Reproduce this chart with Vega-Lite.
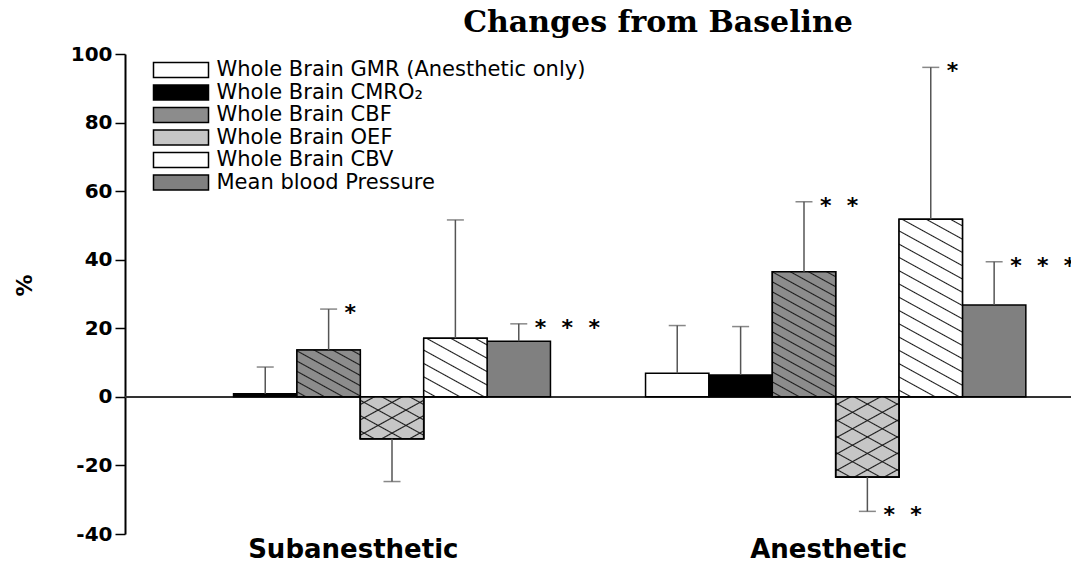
{
  "$schema": "https://vega.github.io/schema/vega-lite/v6.json",
  "autosize": {"type": "none"},
  "padding": {"left": 125, "top": 54, "right": 0, "bottom": 30},
  "width": 946,
  "height": 480,
  "background": "#ffffff",
  "title": {"text": "Changes from Baseline", "font": "DejaVu Serif", "fontSize": 30, "fontWeight": "bold", "color": "#000000", "anchor": "middle", "dx": 60, "dy": 38, "offset": 20, "baseline": "alphabetic"},
  "data": {"values": [
    {"group": "Subanesthetic", "measure": "Whole Brain CMRO₂", "value": 0.9, "cap": 8.7, "sig": ""},
    {"group": "Subanesthetic", "measure": "Whole Brain CBF", "value": 13.7, "cap": 25.6, "sig": "*"},
    {"group": "Subanesthetic", "measure": "Whole Brain OEF", "value": -12.2, "cap": -24.7, "sig": ""},
    {"group": "Subanesthetic", "measure": "Whole Brain CBV", "value": 17.1, "cap": 51.6, "sig": ""},
    {"group": "Subanesthetic", "measure": "Mean blood Pressure", "value": 16.2, "cap": 21.3, "sig": "*\u00a0\u00a0*\u00a0\u00a0*"},
    {"group": "Anesthetic", "measure": "Whole Brain GMR (Anesthetic only)", "value": 6.9, "cap": 20.8, "sig": ""},
    {"group": "Anesthetic", "measure": "Whole Brain CMRO₂", "value": 6.4, "cap": 20.5, "sig": ""},
    {"group": "Anesthetic", "measure": "Whole Brain CBF", "value": 36.5, "cap": 56.9, "sig": "*\u00a0\u00a0*"},
    {"group": "Anesthetic", "measure": "Whole Brain OEF", "value": -23.4, "cap": -33.4, "sig": "*\u00a0\u00a0*"},
    {"group": "Anesthetic", "measure": "Whole Brain CBV", "value": 51.8, "cap": 96.1, "sig": "*"},
    {"group": "Anesthetic", "measure": "Mean blood Pressure", "value": 26.8, "cap": 39.4, "sig": "*\u00a0\u00a0*\u00a0\u00a0*"}
  ]},
  "config": {
    "view": {"stroke": null},
    "axis": {"grid": false, "domainColor": "#000000", "domainWidth": 2, "tickColor": "#000000", "tickWidth": 1.5, "tickSize": 10, "labelColor": "#000000", "labelFont": "DejaVu Sans", "labelFontWeight": "bold", "titleColor": "#000000", "titleFont": "DejaVu Sans", "titleFontWeight": "bold"},
    "axisY": {"labelFontSize": 20, "labelPadding": 3, "labelExpr": "datum.value < 0 ? '-' + abs(datum.value) : '' + datum.value", "titleFontSize": 22, "titleAngle": -90, "titleX": -101, "titleY": 231, "titleAlign": "center", "titleBaseline": "middle"},
    "axisX": {"domain": false, "ticks": false, "labelAngle": 0, "labelFontSize": 26, "labelPadding": 2, "labelOffset": -7, "labelBaseline": "top", "labelLimit": 500},
    "legend": {"orient": "none", "legendX": 28, "legendY": 5.5, "title": null, "symbolType": "M-3.667,-1H3.667V1H-3.667Z", "symbolSize": 225, "symbolOffset": 17.5, "symbolStrokeWidth": 1.5, "labelFont": "DejaVu Sans", "labelFontSize": 21, "labelColor": "#000000", "labelOffset": 25, "rowPadding": 0.5, "padding": 0, "labelLimit": 600}
  },
  "layer": [
    {
      "mark": {"type": "rule", "color": "#333333", "strokeWidth": 1.5},
      "encoding": {"y": {"datum": 0, "type": "quantitative", "scale": {"domain": [-40, 100], "nice": false}, "title": "%", "axis": {"values": [-40, -20, 0, 20, 40, 60, 80, 100]}}}
    },
    {
      "mark": {"type": "bar", "strokeWidth": 1.5},
      "encoding": {
        "x": {"field": "group", "type": "nominal", "sort": ["Subanesthetic", "Anesthetic"], "title": null, "scale": {"paddingInner": 0.2, "paddingOuter": 0.095}},
        "xOffset": {"field": "measure", "type": "nominal", "scale": {"domain": ["Whole Brain GMR (Anesthetic only)", "Whole Brain CMRO₂", "Whole Brain CBF", "Whole Brain OEF", "Whole Brain CBV", "Mean blood Pressure"], "paddingInner": 0, "paddingOuter": 0}},
        "y": {"field": "value", "type": "quantitative", "title": "%", "scale": {"domain": [-40, 100], "nice": false}, "axis": {"values": [-40, -20, 0, 20, 40, 60, 80, 100]}},
        "fill": {"field": "measure", "type": "nominal", "scale": {"domain": ["Whole Brain GMR (Anesthetic only)", "Whole Brain CMRO₂", "Whole Brain CBF", "Whole Brain OEF", "Whole Brain CBV", "Mean blood Pressure"], "range": ["#ffffff", "#000000", "#8c8c8c", "#c6c6c6", "#ffffff", "#808080"]}},
        "stroke": {"field": "measure", "type": "nominal", "scale": {"domain": ["Whole Brain GMR (Anesthetic only)", "Whole Brain CMRO₂", "Whole Brain CBF", "Whole Brain OEF", "Whole Brain CBV", "Mean blood Pressure"], "range": ["#000000", "#000000", "#000000", "#000000", "#000000", "#000000"]}}
      }
    },
    {
      "transform": [{"filter": "datum.group === 'Subanesthetic' && datum.measure === 'Whole Brain CBF'"}],
      "mark": {"type": "bar", "stroke": "#000000", "strokeWidth": 1.5, "fill": {"gradient": "linear", "x1": 1, "y1": 0, "x2": 0.165, "y2": 1.124, "stops": [
        {"offset": 0.0475, "color": "#8c8c8c"}, {"offset": 0.0625, "color": "#1a1a1a"}, {"offset": 0.0775, "color": "#8c8c8c"},
        {"offset": 0.1725, "color": "#8c8c8c"}, {"offset": 0.1875, "color": "#1a1a1a"}, {"offset": 0.2025, "color": "#8c8c8c"},
        {"offset": 0.2975, "color": "#8c8c8c"}, {"offset": 0.3125, "color": "#1a1a1a"}, {"offset": 0.3275, "color": "#8c8c8c"},
        {"offset": 0.4225, "color": "#8c8c8c"}, {"offset": 0.4375, "color": "#1a1a1a"}, {"offset": 0.4525, "color": "#8c8c8c"},
        {"offset": 0.5475, "color": "#8c8c8c"}, {"offset": 0.5625, "color": "#1a1a1a"}, {"offset": 0.5775, "color": "#8c8c8c"},
        {"offset": 0.6725, "color": "#8c8c8c"}, {"offset": 0.6875, "color": "#1a1a1a"}, {"offset": 0.7025, "color": "#8c8c8c"},
        {"offset": 0.7975, "color": "#8c8c8c"}, {"offset": 0.8125, "color": "#1a1a1a"}, {"offset": 0.8275, "color": "#8c8c8c"},
        {"offset": 0.9225, "color": "#8c8c8c"}, {"offset": 0.9375, "color": "#1a1a1a"}, {"offset": 0.9525, "color": "#8c8c8c"}]}},
      "encoding": {
        "x": {"field": "group", "type": "nominal", "sort": ["Subanesthetic", "Anesthetic"], "title": null},
        "xOffset": {"field": "measure", "type": "nominal", "scale": {"domain": ["Whole Brain GMR (Anesthetic only)", "Whole Brain CMRO₂", "Whole Brain CBF", "Whole Brain OEF", "Whole Brain CBV", "Mean blood Pressure"]}},
        "y": {"field": "value", "type": "quantitative", "title": "%"}
      }
    },
    {
      "transform": [{"filter": "datum.group === 'Anesthetic' && datum.measure === 'Whole Brain CBF'"}],
      "mark": {"type": "bar", "stroke": "#000000", "strokeWidth": 1.5, "fill": {"gradient": "linear", "x1": 1, "y1": 0, "x2": 0.669, "y2": 1.187, "stops": [
        {"offset": 0.02375, "color": "#8c8c8c"}, {"offset": 0.03125, "color": "#1a1a1a"}, {"offset": 0.03875, "color": "#8c8c8c"},
        {"offset": 0.08625, "color": "#8c8c8c"}, {"offset": 0.09375, "color": "#1a1a1a"}, {"offset": 0.10125, "color": "#8c8c8c"},
        {"offset": 0.14875, "color": "#8c8c8c"}, {"offset": 0.15625, "color": "#1a1a1a"}, {"offset": 0.16375, "color": "#8c8c8c"},
        {"offset": 0.21125, "color": "#8c8c8c"}, {"offset": 0.21875, "color": "#1a1a1a"}, {"offset": 0.22625, "color": "#8c8c8c"},
        {"offset": 0.27375, "color": "#8c8c8c"}, {"offset": 0.28125, "color": "#1a1a1a"}, {"offset": 0.28875, "color": "#8c8c8c"},
        {"offset": 0.33625, "color": "#8c8c8c"}, {"offset": 0.34375, "color": "#1a1a1a"}, {"offset": 0.35125, "color": "#8c8c8c"},
        {"offset": 0.39875, "color": "#8c8c8c"}, {"offset": 0.40625, "color": "#1a1a1a"}, {"offset": 0.41375, "color": "#8c8c8c"},
        {"offset": 0.46125, "color": "#8c8c8c"}, {"offset": 0.46875, "color": "#1a1a1a"}, {"offset": 0.47625, "color": "#8c8c8c"},
        {"offset": 0.52375, "color": "#8c8c8c"}, {"offset": 0.53125, "color": "#1a1a1a"}, {"offset": 0.53875, "color": "#8c8c8c"},
        {"offset": 0.58625, "color": "#8c8c8c"}, {"offset": 0.59375, "color": "#1a1a1a"}, {"offset": 0.60125, "color": "#8c8c8c"},
        {"offset": 0.64875, "color": "#8c8c8c"}, {"offset": 0.65625, "color": "#1a1a1a"}, {"offset": 0.66375, "color": "#8c8c8c"},
        {"offset": 0.71125, "color": "#8c8c8c"}, {"offset": 0.71875, "color": "#1a1a1a"}, {"offset": 0.72625, "color": "#8c8c8c"},
        {"offset": 0.77375, "color": "#8c8c8c"}, {"offset": 0.78125, "color": "#1a1a1a"}, {"offset": 0.78875, "color": "#8c8c8c"},
        {"offset": 0.83625, "color": "#8c8c8c"}, {"offset": 0.84375, "color": "#1a1a1a"}, {"offset": 0.85125, "color": "#8c8c8c"},
        {"offset": 0.89875, "color": "#8c8c8c"}, {"offset": 0.90625, "color": "#1a1a1a"}, {"offset": 0.91375, "color": "#8c8c8c"},
        {"offset": 0.96125, "color": "#8c8c8c"}, {"offset": 0.96875, "color": "#1a1a1a"}, {"offset": 0.97625, "color": "#8c8c8c"}]}},
      "encoding": {
        "x": {"field": "group", "type": "nominal", "sort": ["Subanesthetic", "Anesthetic"], "title": null},
        "xOffset": {"field": "measure", "type": "nominal", "scale": {"domain": ["Whole Brain GMR (Anesthetic only)", "Whole Brain CMRO₂", "Whole Brain CBF", "Whole Brain OEF", "Whole Brain CBV", "Mean blood Pressure"]}},
        "y": {"field": "value", "type": "quantitative", "title": "%"}
      }
    },
    {
      "transform": [{"filter": "datum.group === 'Subanesthetic' && datum.measure === 'Whole Brain CBV'"}],
      "mark": {"type": "bar", "stroke": "#000000", "strokeWidth": 1.5, "fill": {"gradient": "linear", "x1": 1, "y1": 0, "x2": 0.299, "y2": 1.178, "stops": [
        {"offset": 0.0584, "color": "#ffffff"}, {"offset": 0.0714, "color": "#1a1a1a"}, {"offset": 0.0844, "color": "#ffffff"},
        {"offset": 0.2013, "color": "#ffffff"}, {"offset": 0.2143, "color": "#1a1a1a"}, {"offset": 0.2273, "color": "#ffffff"},
        {"offset": 0.3441, "color": "#ffffff"}, {"offset": 0.3571, "color": "#1a1a1a"}, {"offset": 0.3701, "color": "#ffffff"},
        {"offset": 0.487, "color": "#ffffff"}, {"offset": 0.5, "color": "#1a1a1a"}, {"offset": 0.513, "color": "#ffffff"},
        {"offset": 0.6299, "color": "#ffffff"}, {"offset": 0.6429, "color": "#1a1a1a"}, {"offset": 0.6559, "color": "#ffffff"},
        {"offset": 0.7727, "color": "#ffffff"}, {"offset": 0.7857, "color": "#1a1a1a"}, {"offset": 0.7987, "color": "#ffffff"},
        {"offset": 0.9156, "color": "#ffffff"}, {"offset": 0.9286, "color": "#1a1a1a"}, {"offset": 0.9416, "color": "#ffffff"}]}},
      "encoding": {
        "x": {"field": "group", "type": "nominal", "sort": ["Subanesthetic", "Anesthetic"], "title": null},
        "xOffset": {"field": "measure", "type": "nominal", "scale": {"domain": ["Whole Brain GMR (Anesthetic only)", "Whole Brain CMRO₂", "Whole Brain CBF", "Whole Brain OEF", "Whole Brain CBV", "Mean blood Pressure"]}},
        "y": {"field": "value", "type": "quantitative", "title": "%"}
      }
    },
    {
      "transform": [{"filter": "datum.group === 'Anesthetic' && datum.measure === 'Whole Brain CBV'"}],
      "mark": {"type": "bar", "stroke": "#000000", "strokeWidth": 1.5, "fill": {"gradient": "linear", "x1": 1, "y1": 0, "x2": 0.774, "y2": 1.152, "stops": [
        {"offset": 0.02565, "color": "#ffffff"}, {"offset": 0.03125, "color": "#1a1a1a"}, {"offset": 0.03685, "color": "#ffffff"},
        {"offset": 0.08815, "color": "#ffffff"}, {"offset": 0.09375, "color": "#1a1a1a"}, {"offset": 0.09935, "color": "#ffffff"},
        {"offset": 0.15065, "color": "#ffffff"}, {"offset": 0.15625, "color": "#1a1a1a"}, {"offset": 0.16185, "color": "#ffffff"},
        {"offset": 0.21315, "color": "#ffffff"}, {"offset": 0.21875, "color": "#1a1a1a"}, {"offset": 0.22435, "color": "#ffffff"},
        {"offset": 0.27565, "color": "#ffffff"}, {"offset": 0.28125, "color": "#1a1a1a"}, {"offset": 0.28685, "color": "#ffffff"},
        {"offset": 0.33815, "color": "#ffffff"}, {"offset": 0.34375, "color": "#1a1a1a"}, {"offset": 0.34935, "color": "#ffffff"},
        {"offset": 0.40065, "color": "#ffffff"}, {"offset": 0.40625, "color": "#1a1a1a"}, {"offset": 0.41185, "color": "#ffffff"},
        {"offset": 0.46315, "color": "#ffffff"}, {"offset": 0.46875, "color": "#1a1a1a"}, {"offset": 0.47435, "color": "#ffffff"},
        {"offset": 0.52565, "color": "#ffffff"}, {"offset": 0.53125, "color": "#1a1a1a"}, {"offset": 0.53685, "color": "#ffffff"},
        {"offset": 0.58815, "color": "#ffffff"}, {"offset": 0.59375, "color": "#1a1a1a"}, {"offset": 0.59935, "color": "#ffffff"},
        {"offset": 0.65065, "color": "#ffffff"}, {"offset": 0.65625, "color": "#1a1a1a"}, {"offset": 0.66185, "color": "#ffffff"},
        {"offset": 0.71315, "color": "#ffffff"}, {"offset": 0.71875, "color": "#1a1a1a"}, {"offset": 0.72435, "color": "#ffffff"},
        {"offset": 0.77565, "color": "#ffffff"}, {"offset": 0.78125, "color": "#1a1a1a"}, {"offset": 0.78685, "color": "#ffffff"},
        {"offset": 0.83815, "color": "#ffffff"}, {"offset": 0.84375, "color": "#1a1a1a"}, {"offset": 0.84935, "color": "#ffffff"},
        {"offset": 0.90065, "color": "#ffffff"}, {"offset": 0.90625, "color": "#1a1a1a"}, {"offset": 0.91185, "color": "#ffffff"},
        {"offset": 0.96315, "color": "#ffffff"}, {"offset": 0.96875, "color": "#1a1a1a"}, {"offset": 0.97435, "color": "#ffffff"}]}},
      "encoding": {
        "x": {"field": "group", "type": "nominal", "sort": ["Subanesthetic", "Anesthetic"], "title": null},
        "xOffset": {"field": "measure", "type": "nominal", "scale": {"domain": ["Whole Brain GMR (Anesthetic only)", "Whole Brain CMRO₂", "Whole Brain CBF", "Whole Brain OEF", "Whole Brain CBV", "Mean blood Pressure"]}},
        "y": {"field": "value", "type": "quantitative", "title": "%"}
      }
    },
    {
      "transform": [{"filter": "datum.group === 'Subanesthetic' && datum.measure === 'Whole Brain OEF'"}],
      "mark": {"type": "bar", "stroke": "#000000", "strokeWidth": 1.5, "fill": {"gradient": "linear", "x1": 1, "y1": 0, "x2": 0.098, "y2": 1.081, "stops": [
        {"offset": 0.084, "color": "#c6c6c6"}, {"offset": 0.1, "color": "#1a1a1a"}, {"offset": 0.116, "color": "#c6c6c6"},
        {"offset": 0.284, "color": "#c6c6c6"}, {"offset": 0.3, "color": "#1a1a1a"}, {"offset": 0.316, "color": "#c6c6c6"},
        {"offset": 0.484, "color": "#c6c6c6"}, {"offset": 0.5, "color": "#1a1a1a"}, {"offset": 0.516, "color": "#c6c6c6"},
        {"offset": 0.684, "color": "#c6c6c6"}, {"offset": 0.7, "color": "#1a1a1a"}, {"offset": 0.716, "color": "#c6c6c6"},
        {"offset": 0.884, "color": "#c6c6c6"}, {"offset": 0.9, "color": "#1a1a1a"}, {"offset": 0.916, "color": "#c6c6c6"}]}},
      "encoding": {
        "x": {"field": "group", "type": "nominal", "sort": ["Subanesthetic", "Anesthetic"], "title": null},
        "xOffset": {"field": "measure", "type": "nominal", "scale": {"domain": ["Whole Brain GMR (Anesthetic only)", "Whole Brain CMRO₂", "Whole Brain CBF", "Whole Brain OEF", "Whole Brain CBV", "Mean blood Pressure"]}},
        "y": {"field": "value", "type": "quantitative", "title": "%"}
      }
    },
    {
      "transform": [{"filter": "datum.group === 'Subanesthetic' && datum.measure === 'Whole Brain OEF'"}],
      "mark": {"type": "bar", "stroke": "#000000", "strokeWidth": 1.5, "fill": {"gradient": "linear", "x1": 0, "y1": 0, "x2": 0.902, "y2": 1.081, "stops": [
        {"offset": 0.084, "color": "rgba(0,0,0,0)"}, {"offset": 0.1, "color": "#1a1a1a"}, {"offset": 0.116, "color": "rgba(0,0,0,0)"},
        {"offset": 0.284, "color": "rgba(0,0,0,0)"}, {"offset": 0.3, "color": "#1a1a1a"}, {"offset": 0.316, "color": "rgba(0,0,0,0)"},
        {"offset": 0.484, "color": "rgba(0,0,0,0)"}, {"offset": 0.5, "color": "#1a1a1a"}, {"offset": 0.516, "color": "rgba(0,0,0,0)"},
        {"offset": 0.684, "color": "rgba(0,0,0,0)"}, {"offset": 0.7, "color": "#1a1a1a"}, {"offset": 0.716, "color": "rgba(0,0,0,0)"},
        {"offset": 0.884, "color": "rgba(0,0,0,0)"}, {"offset": 0.9, "color": "#1a1a1a"}, {"offset": 0.916, "color": "rgba(0,0,0,0)"}]}},
      "encoding": {
        "x": {"field": "group", "type": "nominal", "sort": ["Subanesthetic", "Anesthetic"], "title": null},
        "xOffset": {"field": "measure", "type": "nominal", "scale": {"domain": ["Whole Brain GMR (Anesthetic only)", "Whole Brain CMRO₂", "Whole Brain CBF", "Whole Brain OEF", "Whole Brain CBV", "Mean blood Pressure"]}},
        "y": {"field": "value", "type": "quantitative", "title": "%"}
      }
    },
    {
      "transform": [{"filter": "datum.group === 'Anesthetic' && datum.measure === 'Whole Brain OEF'"}],
      "mark": {"type": "bar", "stroke": "#000000", "strokeWidth": 1.5, "fill": {"gradient": "linear", "x1": 1, "y1": 0, "x2": 0.475, "y2": 1.207, "stops": [
        {"offset": 0.0609, "color": "#c6c6c6"}, {"offset": 0.0714, "color": "#1a1a1a"}, {"offset": 0.0819, "color": "#c6c6c6"},
        {"offset": 0.2038, "color": "#c6c6c6"}, {"offset": 0.2143, "color": "#1a1a1a"}, {"offset": 0.2248, "color": "#c6c6c6"},
        {"offset": 0.3466, "color": "#c6c6c6"}, {"offset": 0.3571, "color": "#1a1a1a"}, {"offset": 0.3676, "color": "#c6c6c6"},
        {"offset": 0.4895, "color": "#c6c6c6"}, {"offset": 0.5, "color": "#1a1a1a"}, {"offset": 0.5105, "color": "#c6c6c6"},
        {"offset": 0.6324, "color": "#c6c6c6"}, {"offset": 0.6429, "color": "#1a1a1a"}, {"offset": 0.6534, "color": "#c6c6c6"},
        {"offset": 0.7752, "color": "#c6c6c6"}, {"offset": 0.7857, "color": "#1a1a1a"}, {"offset": 0.7962, "color": "#c6c6c6"},
        {"offset": 0.9181, "color": "#c6c6c6"}, {"offset": 0.9286, "color": "#1a1a1a"}, {"offset": 0.9391, "color": "#c6c6c6"}]}},
      "encoding": {
        "x": {"field": "group", "type": "nominal", "sort": ["Subanesthetic", "Anesthetic"], "title": null},
        "xOffset": {"field": "measure", "type": "nominal", "scale": {"domain": ["Whole Brain GMR (Anesthetic only)", "Whole Brain CMRO₂", "Whole Brain CBF", "Whole Brain OEF", "Whole Brain CBV", "Mean blood Pressure"]}},
        "y": {"field": "value", "type": "quantitative", "title": "%"}
      }
    },
    {
      "transform": [{"filter": "datum.group === 'Anesthetic' && datum.measure === 'Whole Brain OEF'"}],
      "mark": {"type": "bar", "stroke": "#000000", "strokeWidth": 1.5, "fill": {"gradient": "linear", "x1": 0, "y1": 0, "x2": 0.525, "y2": 1.207, "stops": [
        {"offset": 0.0609, "color": "rgba(0,0,0,0)"}, {"offset": 0.0714, "color": "#1a1a1a"}, {"offset": 0.0819, "color": "rgba(0,0,0,0)"},
        {"offset": 0.2038, "color": "rgba(0,0,0,0)"}, {"offset": 0.2143, "color": "#1a1a1a"}, {"offset": 0.2248, "color": "rgba(0,0,0,0)"},
        {"offset": 0.3466, "color": "rgba(0,0,0,0)"}, {"offset": 0.3571, "color": "#1a1a1a"}, {"offset": 0.3676, "color": "rgba(0,0,0,0)"},
        {"offset": 0.4895, "color": "rgba(0,0,0,0)"}, {"offset": 0.5, "color": "#1a1a1a"}, {"offset": 0.5105, "color": "rgba(0,0,0,0)"},
        {"offset": 0.6324, "color": "rgba(0,0,0,0)"}, {"offset": 0.6429, "color": "#1a1a1a"}, {"offset": 0.6534, "color": "rgba(0,0,0,0)"},
        {"offset": 0.7752, "color": "rgba(0,0,0,0)"}, {"offset": 0.7857, "color": "#1a1a1a"}, {"offset": 0.7962, "color": "rgba(0,0,0,0)"},
        {"offset": 0.9181, "color": "rgba(0,0,0,0)"}, {"offset": 0.9286, "color": "#1a1a1a"}, {"offset": 0.9391, "color": "rgba(0,0,0,0)"}]}},
      "encoding": {
        "x": {"field": "group", "type": "nominal", "sort": ["Subanesthetic", "Anesthetic"], "title": null},
        "xOffset": {"field": "measure", "type": "nominal", "scale": {"domain": ["Whole Brain GMR (Anesthetic only)", "Whole Brain CMRO₂", "Whole Brain CBF", "Whole Brain OEF", "Whole Brain CBV", "Mean blood Pressure"]}},
        "y": {"field": "value", "type": "quantitative", "title": "%"}
      }
    },
    {
      "mark": {"type": "rule", "color": "#555555", "strokeWidth": 1.5},
      "encoding": {
        "x": {"field": "group", "type": "nominal", "sort": ["Subanesthetic", "Anesthetic"], "title": null},
        "xOffset": {"field": "measure", "type": "nominal", "scale": {"domain": ["Whole Brain GMR (Anesthetic only)", "Whole Brain CMRO₂", "Whole Brain CBF", "Whole Brain OEF", "Whole Brain CBV", "Mean blood Pressure"]}},
        "y": {"field": "value", "type": "quantitative", "title": "%"},
        "y2": {"field": "cap"}
      }
    },
    {
      "mark": {"type": "tick", "orient": "horizontal", "size": 17, "thickness": 1.5, "color": "#555555"},
      "encoding": {
        "x": {"field": "group", "type": "nominal", "sort": ["Subanesthetic", "Anesthetic"], "title": null},
        "xOffset": {"field": "measure", "type": "nominal", "scale": {"domain": ["Whole Brain GMR (Anesthetic only)", "Whole Brain CMRO₂", "Whole Brain CBF", "Whole Brain OEF", "Whole Brain CBV", "Mean blood Pressure"]}},
        "y": {"field": "cap", "type": "quantitative", "title": "%"}
      }
    },
    {
      "transform": [{"filter": "datum.sig !== ''"}],
      "mark": {"type": "text", "align": "left", "baseline": "alphabetic", "dx": 16, "dy": 11, "font": "DejaVu Sans", "fontSize": 22, "fontWeight": "bold", "color": "#000000"},
      "encoding": {
        "x": {"field": "group", "type": "nominal", "sort": ["Subanesthetic", "Anesthetic"], "title": null},
        "xOffset": {"field": "measure", "type": "nominal", "scale": {"domain": ["Whole Brain GMR (Anesthetic only)", "Whole Brain CMRO₂", "Whole Brain CBF", "Whole Brain OEF", "Whole Brain CBV", "Mean blood Pressure"]}},
        "y": {"field": "cap", "type": "quantitative", "title": "%"},
        "text": {"field": "sig"}
      }
    }
  ]
}
